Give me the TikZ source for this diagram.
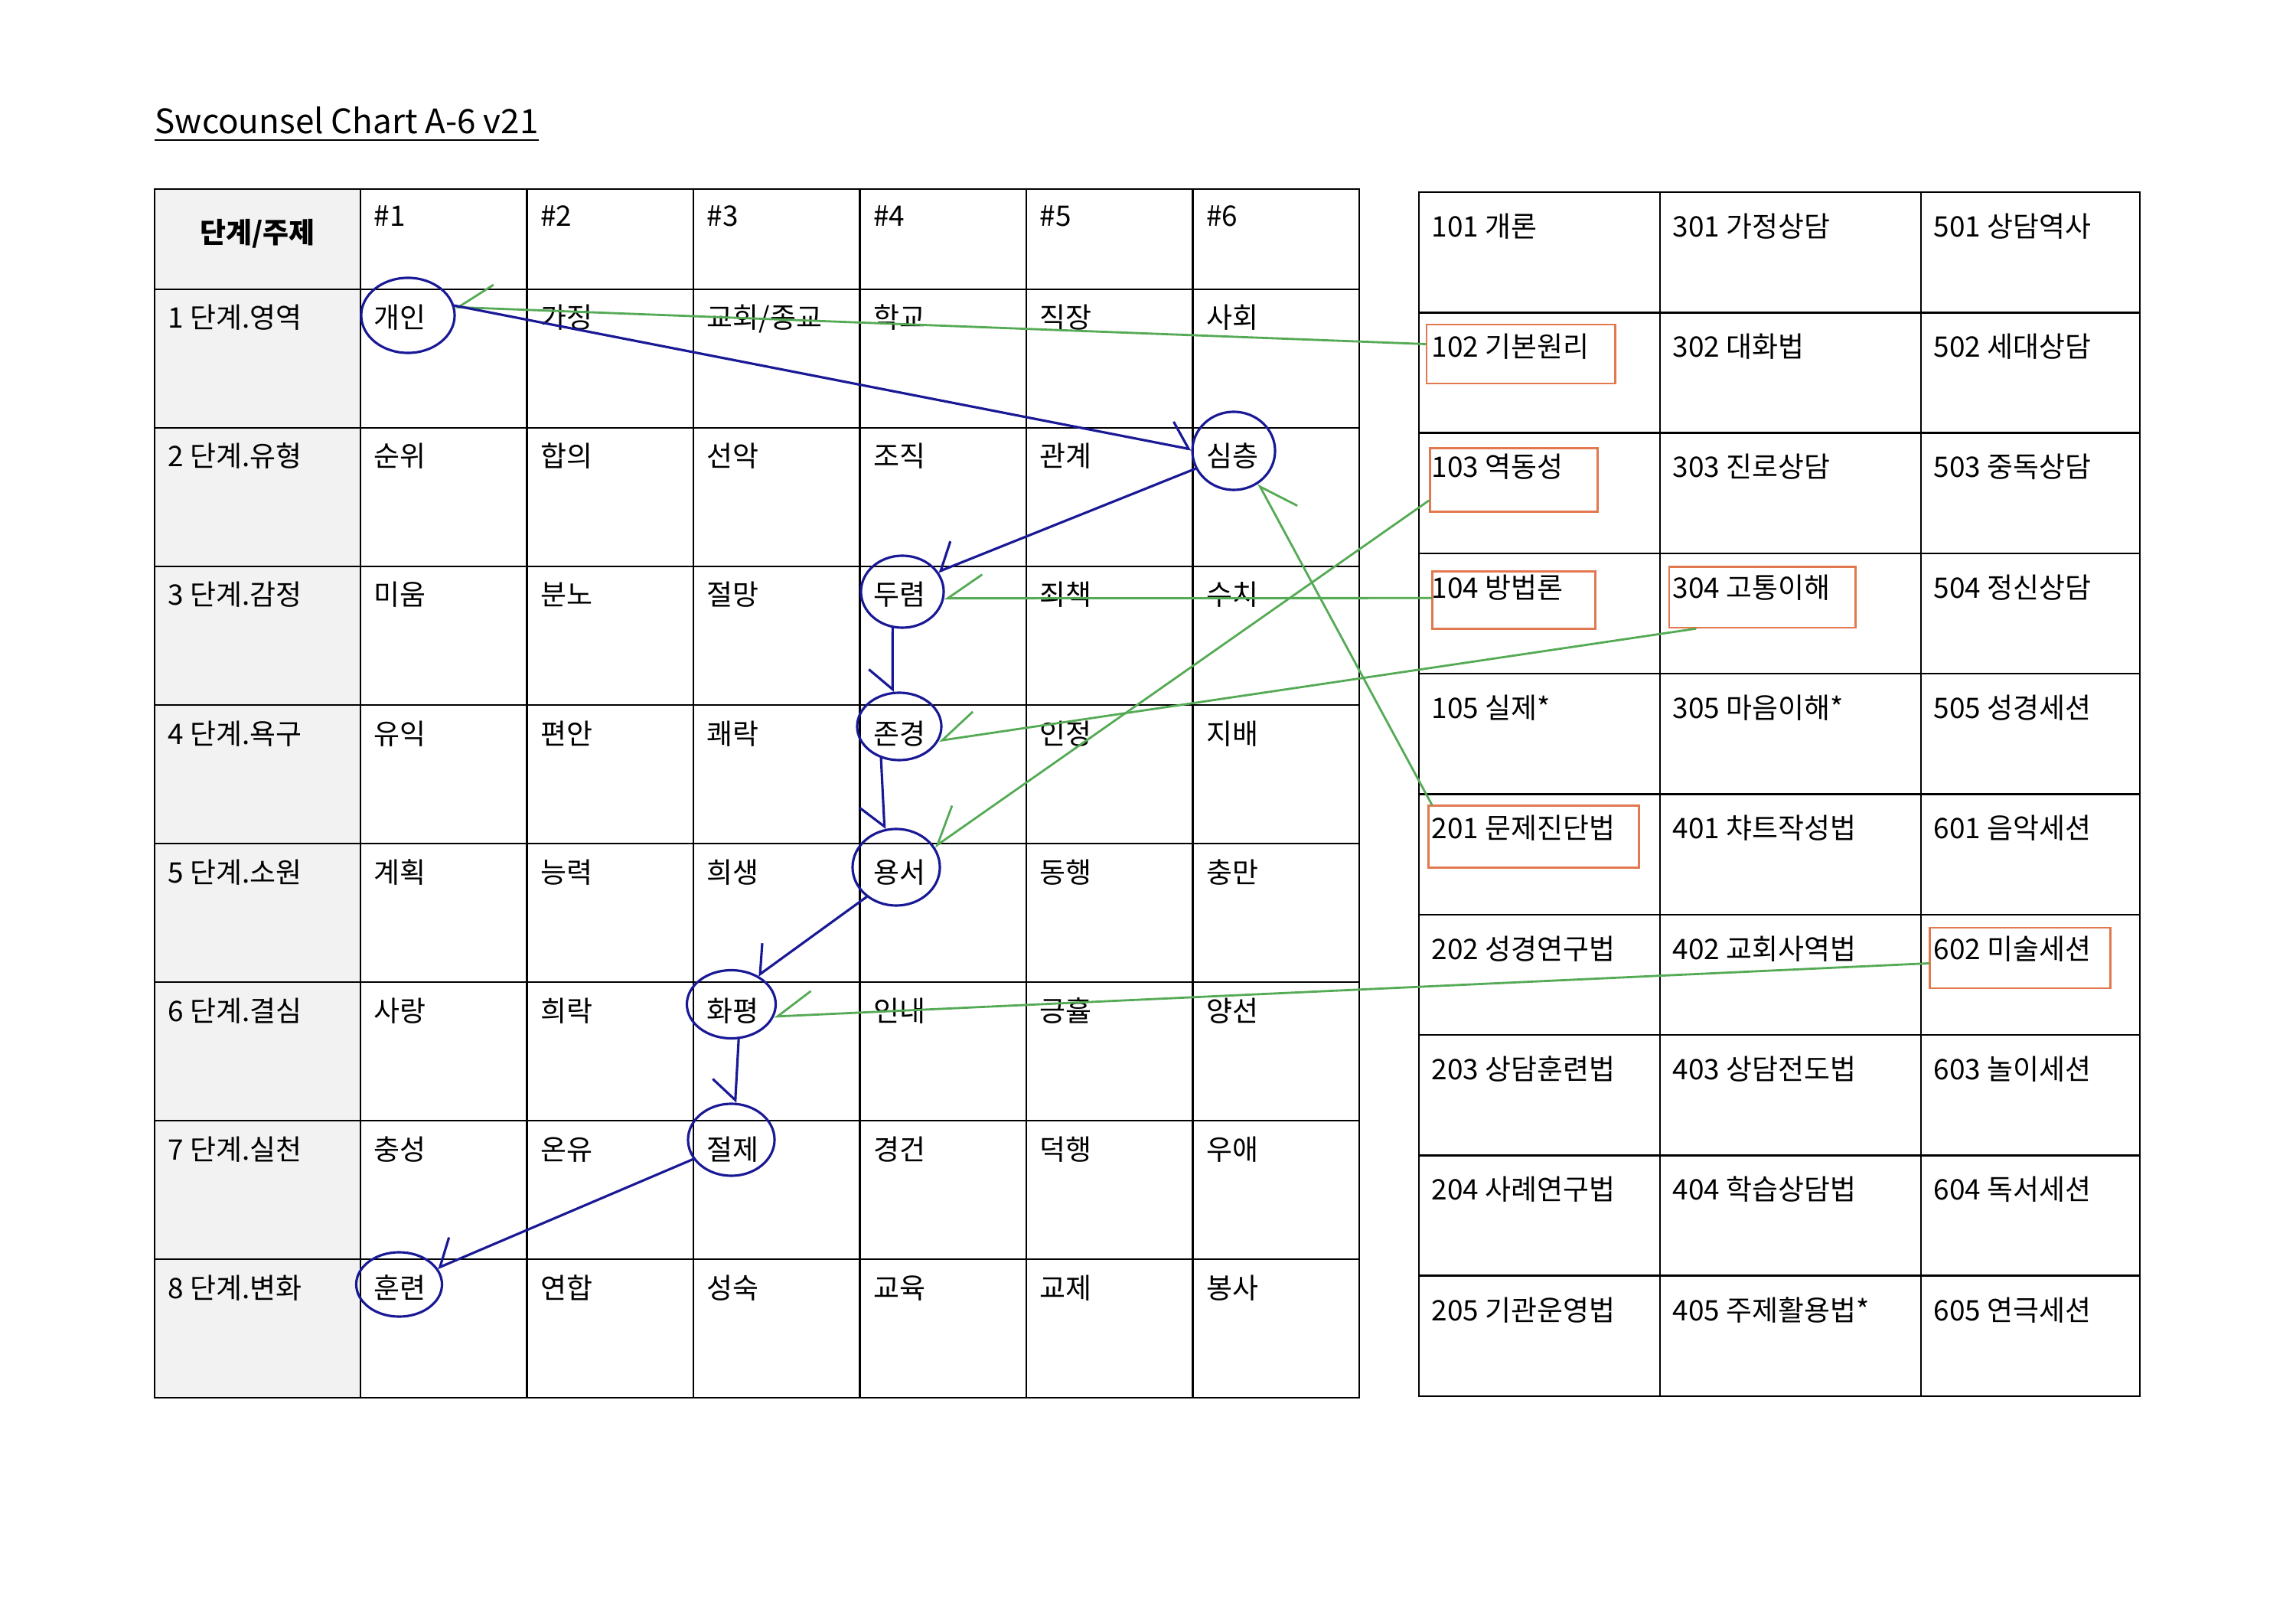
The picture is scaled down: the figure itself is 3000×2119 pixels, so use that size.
\documentclass[tikz,border=0pt]{standalone}
\usepackage{fontspec}
\setmainfont{Noto Sans CJK KR}
\usetikzlibrary{arrows.meta}
\usetikzlibrary{shapes}
\definecolor{penblue}{RGB}{25,25,150}
\definecolor{pengreen}{RGB}{85,170,85}
\definecolor{markorange}{RGB}{225,120,80}
\definecolor{headgray}{RGB}{242,242,242}
\newcommand{\cellfont}{\fontsize{10.5}{12.5}\selectfont}

\begin{document}
\begin{tikzpicture}[x=0.01cm, y=-0.01cm, font=\cellfont]
	\tikzstyle{cellText}=[anchor=base west, inner sep=0pt]
	\tikzstyle{gridLine}=[draw=black, line width=0.7pt]
	\tikzstyle{ringStyle}=[shape=ellipse, draw=penblue, line width=0.9pt, inner sep=0pt]
	\tikzstyle{boxStyle}=[shape=rectangle, draw=markorange, line width=0.8pt, inner sep=0pt]
	\tikzstyle{blueArrow}=[draw=penblue, line width=0.9pt, line cap=round, -{Straight Barb[harpoon, swap, length=2.6mm, width=6.2mm]}]
	\tikzstyle{greenArrow}=[draw=pengreen, line width=0.8pt, line cap=round, -{Straight Barb[harpoon, swap, length=4.5mm, width=6.2mm]}]
	\useasboundingbox (0,0) rectangle (3000,2119);
	% title
	\node[cellText, font=\fontsize{12.5}{15}\selectfont] (title) at (202,175) {Swcounsel Chart A-6 v21};
	\draw[line width=0.8pt] ([yshift=-0.08cm]title.base west) -- ([yshift=-0.08cm]title.base east);
	% stage table
	\fill[headgray] (202,247) rectangle (471,1826);
	\draw[gridLine] (202,247) rectangle (1776,1826);
	\foreach \x in {471,688.5,906,1123.5,1341,1558.5} \draw[gridLine] (\x,247) -- (\x,1826);
	\foreach \i in {0,...,7} \draw[gridLine] (202,{378+181*\i}) -- (1776,{378+181*\i});
	\node[font=\cellfont\bfseries] (head) at (336.5,305) {단계/주제};
	\foreach \j in {1,...,6} \node[cellText] (h\j) at ({270.5+217.5*\j},296) {\#\j};
	\foreach \lab [count=\i] in {1 단계.영역,2 단계.유형,3 단계.감정,4 단계.욕구,5 단계.소원,6 단계.결심,7 단계.실천,8 단계.변화}
		\node[cellText] (r\i) at (219,{248+181*\i}) {\lab};
	\foreach \row [count=\i] in {{개인,가정,교회/종교,학교,직장,사회},{순위,합의,선악,조직,관계,심층},{미움,분노,절망,두렴,죄책,수치},{유익,편안,쾌락,존경,인정,지배},{계획,능력,희생,용서,동행,충만},{사랑,희락,화평,인내,긍휼,양선},{충성,온유,절제,경건,덕행,우애},{훈련,연합,성숙,교육,교제,봉사}}
		\foreach \w [count=\j] in \row \node[cellText] (c\i\j) at ({270.5+217.5*\j},{248+181*\i}) {\w};
	% course table
	\draw[gridLine] (1854,251) rectangle (2796,1824);
	\foreach \x in {2169,2510} \draw[gridLine] (\x,251) -- (\x,1824);
	\foreach \i in {1,...,9} \draw[gridLine] (1854,{251+157.3*\i}) -- (2796,{251+157.3*\i});
	\foreach \a/\b/\c [count=\i] in {101 개론/301 가정상담/501 상담역사,102 기본원리/302 대화법/502 세대상담,103 역동성/303 진로상담/503 중독상담,104 방법론/304 고통이해/504 정신상담,105 실제*/305 마음이해*/505 성경세션,201 문제진단법/401 챠트작성법/601 음악세션,202 성경연구법/402 교회사역법/602 미술세션,203 상담훈련법/403 상담전도법/603 놀이세션,204 사례연구법/404 학습상담법/604 독서세션,205 기관운영법/405 주제활용법*/605 연극세션}
	{
		\node[cellText] (ta\i) at (1870,{152+157.3*\i}) {\a};
		\node[cellText] (tb\i) at (2185,{152+157.3*\i}) {\b};
		\node[cellText] (tc\i) at (2526,{152+157.3*\i}) {\c};
	}
	% marked courses
	\node[boxStyle, minimum width=2.46cm, minimum height=0.77cm] (b102) at (1987,462.5) {};
	\node[boxStyle, minimum width=2.19cm, minimum height=0.83cm] (b103) at (1978,627) {};
	\node[boxStyle, minimum width=2.13cm, minimum height=0.75cm] (b104) at (1978.3,784.3) {};
	\node[boxStyle, minimum width=2.43cm, minimum height=0.79cm] (b304) at (2302.5,780.4) {};
	\node[boxStyle, minimum width=2.75cm, minimum height=0.81cm] (b201) at (2003.75,1093) {};
	\node[boxStyle, minimum width=2.36cm, minimum height=0.79cm] (b602) at (2639.5,1251.5) {};
	% circled words
	\node[ringStyle, minimum width=1.22cm, minimum height=0.98cm] (e1) at (533,412) {};
	\node[ringStyle, minimum width=1.08cm, minimum height=1.02cm] (e2) at (1612,589) {};
	\node[ringStyle, minimum width=1.08cm, minimum height=0.94cm] (e3) at (1179,773) {};
	\node[ringStyle, minimum width=1.10cm, minimum height=0.88cm] (e4) at (1175,949) {};
	\node[ringStyle, minimum width=1.14cm, minimum height=1.00cm] (e5) at (1171,1133) {};
	\node[ringStyle, minimum width=1.16cm, minimum height=0.89cm] (e6) at (955.5,1312) {};
	\node[ringStyle, minimum width=1.13cm, minimum height=0.94cm] (e7) at (955.5,1489) {};
	\node[ringStyle, minimum width=1.12cm, minimum height=0.84cm] (e8) at (521.5,1678) {};
	% green links
	\draw[greenArrow] ([yshift=0.13cm]b102.west) -- (e1.10);
	\draw[greenArrow] ([yshift=0.16cm]b103.south west) -- (e5.28);
	\draw[greenArrow] ([yshift=0.03cm]b104.west) -- (e3.351);
	\draw[greenArrow] ([xshift=0.36cm]b304.south west) -- (e4.340);
	\draw[greenArrow] ([xshift=0.06cm]b201.north west) -- (e2.307);
	\draw[greenArrow] ([yshift=-0.07cm]b602.west) -- (e6.344);
	% blue path
	\draw[blueArrow, -{Straight Barb[harpoon, length=2.6mm, width=6.2mm]}] (e1.12) -- (e2.178);
	\draw[blueArrow] (e2.205) -- (e3.29);
	\draw[blueArrow] (e3.255) -- (e4.101);
	\draw[blueArrow] (e4.240) -- (e5.107);
	\draw[blueArrow] (e5.225) -- (e6.47);
	\draw[blueArrow] (e6.282) -- (e7.84);
	\draw[blueArrow] (e7.207) -- (e8.23);
\end{tikzpicture}
\end{document}
